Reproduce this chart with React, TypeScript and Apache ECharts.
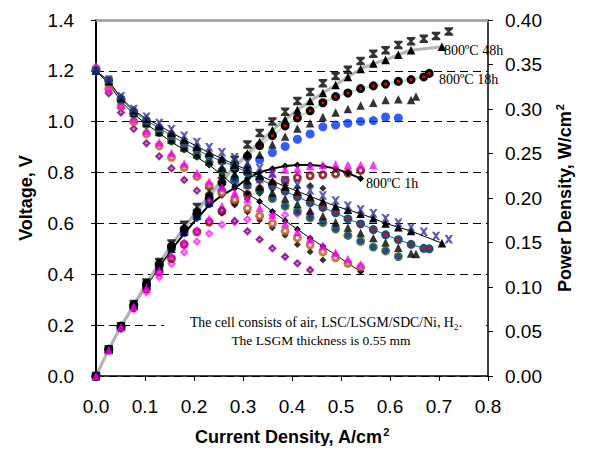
import React, { useEffect, useRef } from 'react';
import * as echarts from 'echarts';

// Current density steps (A/cm2)
const current = [0, 0.026, 0.051, 0.077, 0.103, 0.129, 0.154, 0.18, 0.206, 0.231, 0.257, 0.283, 0.309, 0.334, 0.36, 0.386, 0.411, 0.437, 0.463, 0.489, 0.514, 0.54, 0.566, 0.591, 0.617, 0.643, 0.669, 0.694, 0.72];

// Series A (navy x voltage / black star power)
const vA = [1.2, 1.165, 1.1, 1.05, 1.02, 0.995, 0.97, 0.945, 0.92, 0.9, 0.88, 0.86, 0.84, 0.818, 0.795, 0.77, 0.752, 0.73, 0.71, 0.69, 0.67, 0.655, 0.64, 0.62, 0.603, 0.585, 0.567, 0.551, 0.538];
const pA = [0, 0.03, 0.056, 0.081, 0.105, 0.128, 0.149, 0.17, 0.19, 0.208, 0.226, 0.243, 0.26, 0.273, 0.286, 0.297, 0.309, 0.319, 0.329, 0.337, 0.344, 0.354, 0.362, 0.366, 0.372, 0.376, 0.379, 0.382, 0.387];

// Series B (800ºC 48h, black triangles)
const iB = [...current.slice(0, 26), 0.706];
const vB = [1.2, 1.16, 1.095, 1.045, 1.012, 0.985, 0.957, 0.93, 0.903, 0.878, 0.855, 0.832, 0.81, 0.788, 0.767, 0.745, 0.727, 0.706, 0.687, 0.668, 0.654, 0.638, 0.62, 0.6, 0.585, 0.57, 0.522];
const pB = [0, 0.03, 0.056, 0.08, 0.104, 0.127, 0.147, 0.167, 0.186, 0.203, 0.22, 0.235, 0.25, 0.263, 0.276, 0.288, 0.299, 0.309, 0.318, 0.327, 0.336, 0.345, 0.351, 0.355, 0.361, 0.366, 0.37];

// Series C (800ºC 18h, circles with red centre)
const iC = [...current.slice(0, 27), 0.68];
const vC = [1.2, 1.16, 1.09, 1.04, 1.005, 0.975, 0.945, 0.915, 0.89, 0.865, 0.845, 0.825, 0.8, 0.775, 0.75, 0.727, 0.705, 0.682, 0.663, 0.642, 0.618, 0.598, 0.576, 0.555, 0.536, 0.518, 0.502, 0.5];
const pC = [0, 0.03, 0.056, 0.08, 0.104, 0.126, 0.146, 0.165, 0.183, 0.2, 0.217, 0.233, 0.247, 0.259, 0.27, 0.281, 0.29, 0.298, 0.307, 0.314, 0.318, 0.323, 0.326, 0.328, 0.331, 0.333, 0.336, 0.34];

// Series D (black triangles, no line)
const iD = [...current.slice(0, 26), 0.653];
const vD = [1.2, 1.16, 1.09, 1.035, 0.995, 0.96, 0.93, 0.9, 0.872, 0.845, 0.82, 0.795, 0.77, 0.745, 0.722, 0.698, 0.676, 0.651, 0.629, 0.605, 0.584, 0.562, 0.543, 0.525, 0.504, 0.482, 0.48];
const pD = [0, 0.03, 0.056, 0.08, 0.102, 0.124, 0.143, 0.162, 0.18, 0.195, 0.211, 0.225, 0.238, 0.249, 0.26, 0.269, 0.278, 0.284, 0.291, 0.296, 0.3, 0.304, 0.307, 0.31, 0.311, 0.31, 0.314];

// Series E (green circles voltage / blue circles power)
const vE = [1.2, 1.165, 1.085, 1.03, 0.99, 0.957, 0.925, 0.895, 0.868, 0.84, 0.808, 0.775, 0.75, 0.728, 0.698, 0.668, 0.647, 0.622, 0.603, 0.578, 0.553, 0.53, 0.507, 0.492, 0.47];
const pE = [0, 0.03, 0.055, 0.079, 0.102, 0.123, 0.143, 0.161, 0.179, 0.194, 0.208, 0.219, 0.232, 0.243, 0.251, 0.258, 0.266, 0.272, 0.28, 0.282, 0.284, 0.286, 0.287, 0.291, 0.29];

// Series F (magenta triangles)
const vF = [1.22, 1.13, 1.066, 1.01, 0.963, 0.918, 0.877, 0.836, 0.798, 0.765, 0.742, 0.72, 0.695, 0.662, 0.633, 0.6, 0.567, 0.54, 0.512, 0.486, 0.46, 0.438];
const pF = [0, 0.029, 0.055, 0.078, 0.099, 0.118, 0.135, 0.15, 0.164, 0.177, 0.191, 0.204, 0.215, 0.221, 0.228, 0.232, 0.233, 0.236, 0.237, 0.238, 0.237, 0.237, 0.237];

// Series G (hollow orange / maroon circles)
const vG = [1.21, 1.13, 1.06, 1.0, 0.952, 0.905, 0.86, 0.82, 0.785, 0.75, 0.72, 0.693, 0.66, 0.63, 0.6, 0.57, 0.543, 0.515, 0.488, 0.465, 0.443, 0.428];
const pG = [0, 0.029, 0.054, 0.077, 0.098, 0.117, 0.132, 0.148, 0.162, 0.173, 0.185, 0.196, 0.204, 0.21, 0.216, 0.22, 0.223, 0.225, 0.226, 0.227, 0.228, 0.231];

// Series H (800ºC 1h, black diamonds with line)
const vH = [1.2, 1.15, 1.08, 1.03, 0.99, 0.955, 0.92, 0.89, 0.86, 0.83, 0.79, 0.746, 0.718, 0.686, 0.647, 0.611, 0.577, 0.542, 0.51, 0.476, 0.444, 0.411];
const pH = [0, 0.03, 0.055, 0.079, 0.102, 0.123, 0.142, 0.16, 0.177, 0.192, 0.203, 0.211, 0.222, 0.229, 0.233, 0.236, 0.237, 0.237, 0.236, 0.233, 0.228, 0.222];

// Series I (purple diamonds voltage / pink diamonds power)
const vI = [1.2, 1.112, 1.036, 0.972, 0.915, 0.864, 0.817, 0.771, 0.729, 0.69, 0.652, 0.61, 0.569, 0.537, 0.502, 0.469, 0.443, 0.417];
const pI = [0, 0.029, 0.053, 0.075, 0.094, 0.111, 0.126, 0.139, 0.151, 0.16, 0.17, 0.173, 0.176, 0.179, 0.181, 0.181, 0.182, 0.182];

// Series J (small black diamonds)
const vJ = [1.2, 1.14, 1.07, 1.01, 0.96, 0.912, 0.868, 0.825, 0.785, 0.748, 0.712, 0.678, 0.645, 0.613, 0.583, 0.554, 0.517, 0.489, 0.456];
const pJ = [0, 0.03, 0.055, 0.078, 0.099, 0.118, 0.134, 0.149, 0.162, 0.173, 0.183, 0.192, 0.199, 0.205, 0.21, 0.214, 0.212, 0.214, 0.211];

const xTicks = [0, 0.1, 0.2, 0.3, 0.4, 0.5, 0.6, 0.7, 0.8];

const pairs = (xs: number[], ys: number[]) => ys.map((y, i) => [xs[i], y]);

const X_SYM = 'path://M0,0 L3,0 L5,2.6 L7,0 L10,0 L6.6,5 L10,10 L7,10 L5,7.4 L3,10 L0,10 L3.4,5 Z';
const STAR_SYM = 'path://M0,0 L10,0 L10,2 L6.4,5 L10,8 L10,10 L0,10 L0,8 L3.6,5 L0,2 Z';

const SANS = '"Liberation Sans", Arial, sans-serif';
const SERIF = '"Liberation Serif", "Times New Roman", serif';

function mk(
  xs: number[], ys: number[], axis: number, symbol: string, size: number,
  itemStyle: any, line?: any
) {
  return {
    type: line ? 'line' : 'scatter',
    xAxisIndex: 0,
    yAxisIndex: axis,
    data: pairs(xs, ys),
    symbol,
    symbolSize: size,
    showSymbol: true,
    itemStyle,
    lineStyle: line,
    smooth: false,
    z: 10,
    silent: true,
  };
}

export default function App() {
  const ref = useRef<HTMLDivElement>(null);
  useEffect(() => {
    if (!ref.current) return;
    const chart = echarts.init(ref.current, undefined, { renderer: 'svg' });
    const black = { color: '#000' };
    const series = [
      // power curves
      mk(current.slice(0, 19), pJ, 1, 'diamond', 7, black),
      mk(current.slice(0, 18), pI, 1, 'diamond', 6, { color: '#ffaaff', borderColor: '#ff22ff', borderWidth: 2 }),
      mk(current.slice(0, 22), pG, 1, 'circle', 6, { color: '#fff', borderColor: '#800000', borderWidth: 3 }),
      mk(current.slice(0, 22), pH, 1, 'diamond', 7, black, { color: '#000', width: 2 }),
      mk(current.slice(0, 25), pE, 1, 'circle', 9, { color: '#0033ff' }),
      mk(iD, pD, 1, 'triangle', 8.5, black),
      mk(iC, pC, 1, 'circle', 6, { color: '#ff0000', borderColor: '#000', borderWidth: 3 }, { color: '#c6e2d2', width: 2.5 }),
      mk(iB, pB, 1, 'triangle', 8.5, black, { color: '#b4b4b4', width: 3 }),
      mk(current, pA, 1, STAR_SYM, 8.5, black),
      mk(current.slice(0, 23), pF, 1, 'triangle', 8.5, { color: '#ff00ff' }),
      // voltage curves
      mk(current.slice(0, 18), vI, 0, 'diamond', 6, { color: '#cc66cc', borderColor: '#800080', borderWidth: 2 }),
      mk(current.slice(0, 19), vJ, 0, 'diamond', 7, black),
      mk(current.slice(0, 22), vH, 0, 'diamond', 7, black, { color: '#000', width: 1 }),
      mk(current.slice(0, 22), vG, 0, 'circle', 6, { color: '#fff', borderColor: '#c0561c', borderWidth: 3 }),
      mk(current.slice(0, 22), vF, 0, 'triangle', 8.5, { color: '#ff00ff' }),
      mk(current.slice(0, 25), vE, 0, 'circle', 6, { color: '#0000ff', borderColor: '#1e5a1e', borderWidth: 3 }),
      mk(iD, vD, 0, 'triangle', 8.5, black),
      mk(iC, vC, 0, 'circle', 6, { color: '#ff0000', borderColor: '#1f4e79', borderWidth: 3 }, { color: '#1f5c99', width: 1 }),
      mk(iB, vB, 0, 'triangle', 8.5, black, { color: '#000', width: 1 }),
      mk(current, vA, 0, X_SYM, 8.5, { color: '#333399' }),
    ];

    chart.setOption({
      animation: false,
      backgroundColor: '#fff',
      grid: { left: 96, right: 102, top: 20, bottom: 78, containLabel: false },
      xAxis: [
        {
          type: 'value', min: xTicks[0], max: xTicks[xTicks.length - 1], interval: 0.1,
          position: 'bottom',
          name: 'Current Density, A/cm{sup|2}',
          nameLocation: 'middle', nameGap: 50,
          nameTextStyle: {
            fontFamily: SANS, fontSize: 18, fontWeight: 'bold', color: '#000',
            rich: { sup: { fontFamily: SANS, fontSize: 11, fontWeight: 'bold', verticalAlign: 'top', padding: [0, 0, 10, 1] } },
          },
          axisLine: { onZero: false, lineStyle: { color: '#000', width: 1.5 } },
          axisTick: { show: true, inside: false, length: 5, lineStyle: { color: '#000' } },
          axisLabel: { fontFamily: SANS, fontSize: 19, color: '#000', margin: 21, formatter: (v: number) => v.toFixed(1) },
          splitLine: { show: false },
        },
        {
          type: 'value', min: 0, max: 0.8, interval: 0.1, position: 'top',
          axisLine: { onZero: false, lineStyle: { color: '#9a9a9a', width: 2.5 } },
          axisTick: { show: false }, axisLabel: { show: false }, splitLine: { show: false },
        },
      ],
      yAxis: [
        {
          type: 'value', min: 0, max: 1.4, interval: 0.2, position: 'left',
          name: 'Voltage, V', nameLocation: 'middle', nameGap: 61,
          nameTextStyle: { fontFamily: SANS, fontSize: 18, fontWeight: 'bold', color: '#000' },
          axisLine: { show: true, onZero: false, lineStyle: { color: '#000', width: 2 } },
          axisTick: { show: true, inside: false, length: 5, lineStyle: { color: '#000' } },
          axisLabel: { fontFamily: SANS, fontSize: 19, color: '#000', margin: 22, formatter: (v: number) => v.toFixed(1) },
          splitLine: { show: true, lineStyle: { color: '#000', width: 1, type: [8, 5] } },
        },
        {
          type: 'value', min: 0, max: 0.4, interval: 0.05, position: 'right',
          name: 'Power Density, W/cm{sup|2}', nameLocation: 'middle', nameGap: 66,
          nameTextStyle: {
            fontFamily: SANS, fontSize: 18, fontWeight: 'bold', color: '#000',
            rich: { sup: { fontFamily: SANS, fontSize: 11, fontWeight: 'bold', verticalAlign: 'top', padding: [0, 0, 10, 1] } },
          },
          axisLine: { show: true, onZero: false, lineStyle: { color: '#000', width: 1.5 } },
          axisTick: { show: true, inside: false, length: 5, lineStyle: { color: '#000' } },
          axisLabel: { fontFamily: SANS, fontSize: 19, color: '#000', margin: 17, formatter: (v: number) => v.toFixed(2) },
          splitLine: { show: false },
        },
      ],
      graphic: [
        { type: 'rect', z: 5, shape: { x: 164, y: 310, width: 322, height: 38 }, style: { fill: '#fff' } },
        { type: 'text', z: 6, x: 326, y: 322, style: { text: 'The cell consists of air, LSC/LSGM/SDC/Ni, H\u2082.', fontFamily: SERIF, fontSize: 13.8, fill: '#000', textAlign: 'center', textVerticalAlign: 'middle' } },
        { type: 'text', z: 6, x: 321, y: 340, style: { text: 'The LSGM thickness is 0.55 mm', fontFamily: SERIF, fontSize: 13.5, fill: '#000', textAlign: 'center', textVerticalAlign: 'middle' } },
        { type: 'text', z: 20, x: 444, y: 50, style: { text: '800ºC 48h', fontFamily: SERIF, fontSize: 14, fill: '#000', textAlign: 'left', textVerticalAlign: 'middle' } },
        { type: 'text', z: 20, x: 439, y: 79, style: { text: '800ºC 18h', fontFamily: SERIF, fontSize: 14, fill: '#000', textAlign: 'left', textVerticalAlign: 'middle' } },
        { type: 'text', z: 20, x: 366, y: 183, style: { text: '800ºC 1h', fontFamily: SERIF, fontSize: 14, fill: '#000', textAlign: 'left', textVerticalAlign: 'middle' } },
      ],
      series,
    });
    return () => chart.dispose();
  }, []);
  return <div ref={ref} style={{ width: 590, height: 454, margin: -8 }} />;
}
